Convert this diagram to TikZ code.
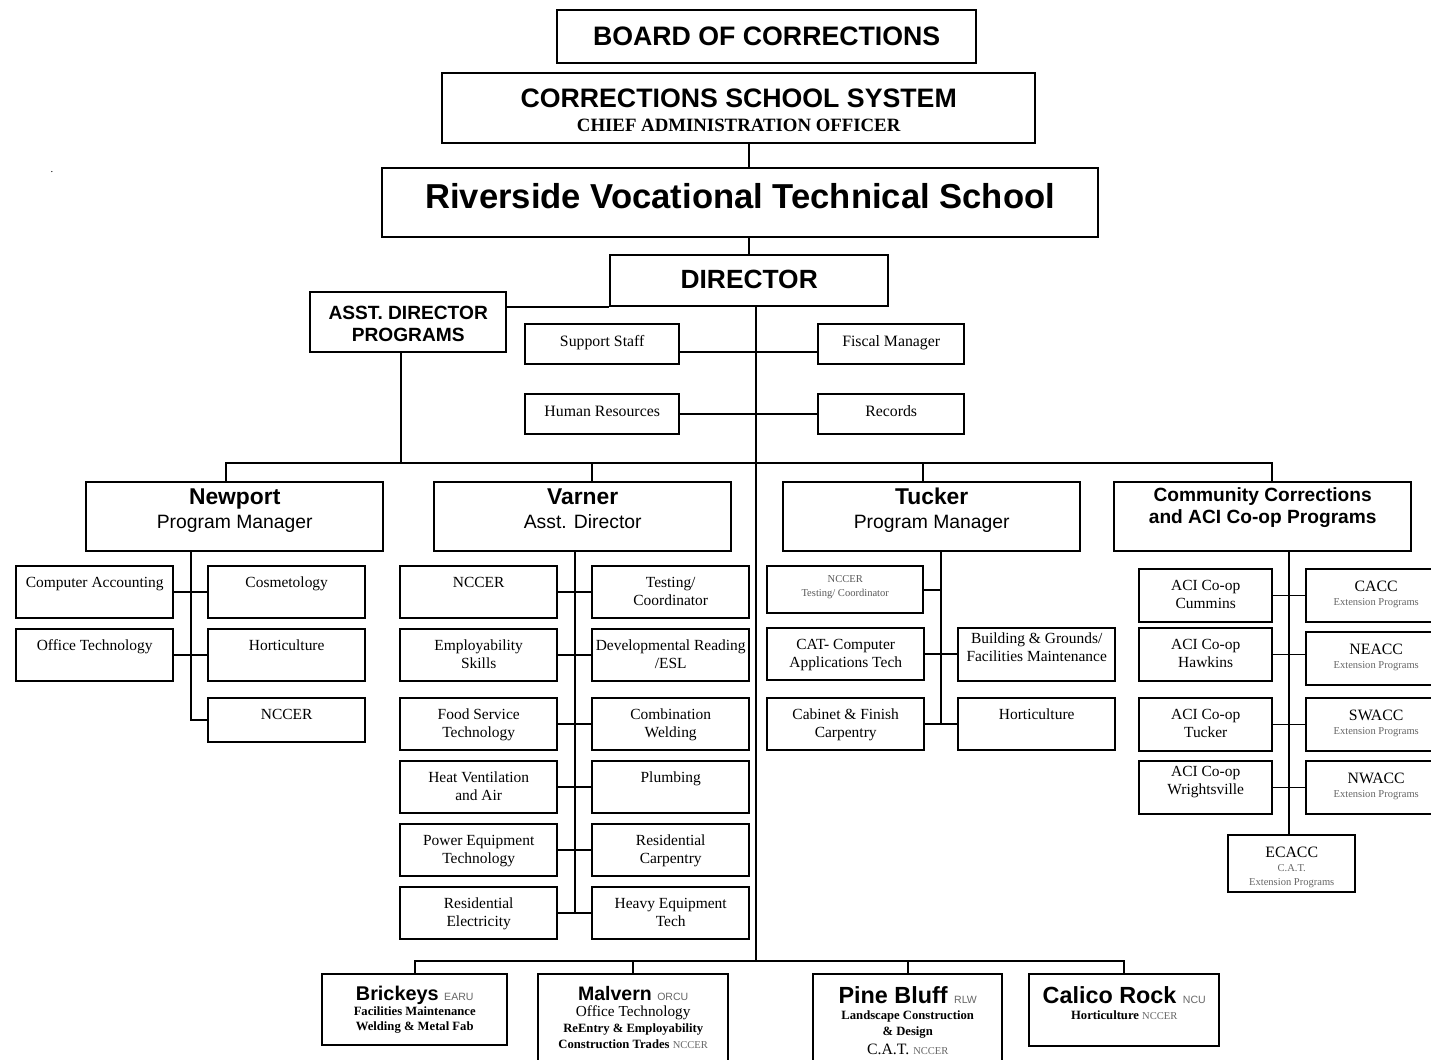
\documentclass[tikz,border=0pt]{standalone}
\usepackage{fontspec}
\setmainfont{Liberation Serif}
\setsansfont{Liberation Sans}
\usetikzlibrary{calc}

\tikzset{
  conn/.style={line width=1.1pt},
  cell/.style n args={3}{draw, line width=1.4pt, inner sep=0pt, anchor=north west,
    execute at begin node={\begin{minipage}[c][#2][t]{#1}\centering\rule{0pt}{#3}},
    execute at end node={\end{minipage}}},
  head/.style={cell={5.94cm}{1.38cm}{12.5pt}, font=\sffamily\fontsize{11}{13.6}\selectfont},
  staff/.style={cell={#1}{0.8cm}{12.5pt}, font=\fontsize{9}{11}\selectfont},
  sub/.style={cell={3.14cm}{#1}{11.9pt}, font=\fontsize{8.8}{10.2}\selectfont},
  sub/.default=1.03cm,
  aci/.style={cell={2.66cm}{1.05cm}{#1}, font=\fontsize{8.8}{10.2}\selectfont},
  aci/.default=11.9pt,
  ext/.style={cell={2.8cm}{1.05cm}{12.5pt}, font=\fontsize{6}{8}\selectfont},
  unit/.style n args={3}{cell={#1}{#2}{#3}, font=\bfseries\fontsize{7.2}{9.2}\selectfont}
}
\newcommand\faint[1]{{\mdseries\fontsize{6}{8}\selectfont\color{black!60}#1}}
\newcommand\site[3]{{\sffamily\bfseries\fontsize{#1}{12}\selectfont #2 \faint{#3}}}

\begin{document}
\begin{tikzpicture}[x=0.02cm,y=-0.02cm]
\useasboundingbox[fill=white] (0,0) rectangle (1431,1059);
\node[font=\fontsize{6}{6}\selectfont] (speck) at (52,172) {.};

% top of the chart
\node[cell={8.38cm}{1.06cm}{20.3pt}, font=\sffamily\bfseries\fontsize{15.2}{18}\selectfont] (board) at (556,9) {BOARD OF CORRECTIONS};
\node[cell={11.86cm}{1.4cm}{19.7pt}, font=\sffamily\bfseries\fontsize{15.2}{13.3}\selectfont] (css) at (441,72) {CORRECTIONS SCHOOL SYSTEM\\{\rmfamily\bfseries\fontsize{10.7}{13.3}\selectfont CHIEF ADMINISTRATION OFFICER}};
\node[cell={14.32cm}{1.38cm}{23pt}, font=\sffamily\bfseries\fontsize{19.7}{22}\selectfont] (rvts) at (381,167) {Riverside Vocational Technical School};
\node[cell={5.56cm}{1.02cm}{19pt}, font=\sffamily\bfseries\fontsize{15}{18}\selectfont] (dir) at (609,254) {DIRECTOR};
\node[cell={3.92cm}{1.2cm}{15.3pt}, font=\sffamily\bfseries\fontsize{10.9}{12.5}\selectfont] (asst) at (309,291) {ASST. DIRECTOR\\PROGRAMS};

\node[staff=3.08cm] (sup) at (524,323) {Support Staff};
\node[staff=2.92cm] (fis) at (817,323) {Fiscal Manager};
\node[staff=3.08cm] (hr) at (524,393) {Human Resources};
\node[staff=2.92cm] (rec) at (817,393) {Records};

% sites
\node[head] (newport) at (85,481) {{\bfseries\fontsize{13}{15}\selectfont Newport}\\Program Manager};
\node[head] (varner) at (433,481) {{\bfseries\fontsize{13}{15}\selectfont Varner}\\Asst. Director};
\node[head] (tucker) at (782,481) {{\bfseries\fontsize{13}{15}\selectfont Tucker}\\Program Manager};
\node[cell={5.94cm}{1.38cm}{10.8pt}, font=\sffamily\bfseries\fontsize{10.9}{12.5}\selectfont] (comm) at (1113,481) {Community Corrections\\and ACI Co-op Programs};

% Newport
\node[sub] (ca) at (15,565) {Computer Accounting};
\node[sub] (cos) at (207,565) {Cosmetology};
\node[sub] (ot) at (15,628) {Office Technology};
\node[sub] (nhort) at (207,628) {Horticulture};
\node[sub=0.88cm] (nnc) at (207,697) {NCCER};

% Varner
\node[sub] (vnc) at (399,565) {NCCER};
\node[sub] (vtest) at (591,565) {Testing/\\Coordinator};
\node[sub] (emp) at (399,628) {Employability\\Skills};
\node[sub] (dev) at (591,628) {Developmental Reading\\/ESL};
\node[sub] (food) at (399,697) {Food Service\\Technology};
\node[sub] (weld) at (591,697) {Combination\\Welding};
\node[sub] (hva) at (399,760) {Heat Ventilation\\and Air};
\node[sub] (plumb) at (591,760) {Plumbing};
\node[sub] (pow) at (399,823) {Power Equipment\\Technology};
\node[sub] (carp) at (591,823) {Residential\\Carpentry};
\node[sub] (elec) at (399,886) {Residential\\Electricity};
\node[sub] (heavy) at (591,886) {Heavy Equipment\\Tech};

% Tucker
\node[cell={3.12cm}{0.94cm}{9pt}, font=\fontsize{6}{8}\selectfont, text=black!65] (tnc) at (766,565) {NCCER\\Testing/ Coordinator};
\node[sub] (cat) at (766,627) {CAT- Computer\\Applications Tech};
\node[sub] (cab) at (766,697) {Cabinet \& Finish\\Carpentry};
\node[cell={3.14cm}{1.06cm}{8.5pt}, font=\fontsize{8.8}{10.2}\selectfont] (bg) at (957,627) {Building \& Grounds/\\Facilities Maintenance};
\node[sub] (thort) at (957,697) {Horticulture};

% Community Corrections
\node[aci] (cum) at (1138,568) {ACI Co-op\\Cummins};
\node[aci] (haw) at (1138,627) {ACI Co-op\\Hawkins};
\node[aci] (atuck) at (1138,697) {ACI Co-op\\Tucker};
\node[aci=8.5pt] (wri) at (1138,760) {ACI Co-op\\Wrightsville};
\node[ext] (cacc) at (1305,568) {{\fontsize{9}{8}\selectfont CACC}\\{\color{black!60}Extension Programs}};
\node[ext] (neacc) at (1305,631) {{\fontsize{9}{8}\selectfont NEACC}\\{\color{black!60}Extension Programs}};
\node[ext] (swacc) at (1305,697) {{\fontsize{9}{8}\selectfont SWACC}\\{\color{black!60}Extension Programs}};
\node[ext] (nwacc) at (1305,760) {{\fontsize{9}{8}\selectfont NWACC}\\{\color{black!60}Extension Programs}};
\node[cell={2.54cm}{1.14cm}{12.5pt}, font=\fontsize{6}{8}\selectfont] (ecacc) at (1227,834) {{\fontsize{9}{8}\selectfont ECACC}\\{\color{black!60}C.A.T.}\\{\color{black!60}Extension Programs}};

% units at the bottom
\node[unit={3.7cm}{1.42cm}{14.7pt}, font=\bfseries\fontsize{7.2}{8.7}\selectfont] (bri) at (321,973) {\site{11.3}{Brickeys}{EARU}\\Facilities Maintenance\\Welding \& Metal Fab};
\node[unit={3.8cm}{2cm}{14.7pt}] (mal) at (537,973) {\site{11.1}{Malvern}{ORCU}\\{\mdseries\fontsize{8.7}{9}\selectfont Office Technology}\\ReEntry \& Employability\\Construction Trades \faint{NCCER}};
\node[unit={3.78cm}{2cm}{16.5pt}] (pb) at (812,973) {\site{13.3}{Pine Bluff}{RLW}\\Landscape Construction\\\& Design\\[1.5pt]{\mdseries\fontsize{9}{9}\selectfont C.A.T. \faint{NCCER}}};
\node[unit={3.8cm}{1.44cm}{16.5pt}] (cal) at (1028,973) {\site{13.3}{Calico Rock}{NCU}\\Horticulture \faint{NCCER}};

% connectors
\coordinate (trunk) at ([xshift=0.14cm]dir.south);
\coordinate (bus) at (0,463);
\coordinate (lowbus) at (0,961);
\draw[conn] (css.south -| dir) -- (rvts.north -| dir);
\draw[conn] (rvts.south -| dir) -- (dir);
\draw[conn] (asst.east |- dir.south west) -- (dir.south west);
\draw[conn] (trunk) -- (trunk |- lowbus);
\draw[conn] ([yshift=-0.15cm]sup.east) -- ([yshift=-0.15cm]fis.west);
\draw[conn] (hr) -- (rec);
\draw[conn] ([xshift=-0.14cm]asst.south) -- ([xshift=-0.14cm]asst.south |- bus);

\coordinate (dn) at ([xshift=-0.17cm]newport.north);
\coordinate (dv) at ([xshift=0.19cm]varner.north);
\coordinate (dt) at ([xshift=-0.17cm]tucker.north);
\coordinate (dc) at ([xshift=0.19cm]comm.north);
\draw[conn] (dn) |- (dc |- bus) -- (dc);
\draw[conn] (dv) -- (dv |- bus);
\draw[conn] (dt) -- (dt |- bus);

\coordinate (nx) at ($(ca.east)!.5!(cos.west)$);
\draw[conn] (nx |- newport.south) -- (nx |- nnc.west) -- (nnc.west);
\draw[conn] (ca) -- (cos);
\draw[conn] (ot) -- (nhort);

\coordinate (vx) at ($(vnc.east)!.5!(vtest.west)$);
\draw[conn] (vx |- varner.south) -- (vx |- elec.east);
\draw[conn] (vnc) -- (vtest);
\draw[conn] (emp) -- (dev);
\draw[conn] (food) -- (weld);
\draw[conn] (hva) -- (plumb);
\draw[conn] (pow) -- (carp);
\draw[conn] (elec) -- (heavy);

\coordinate (tx) at ($(cat.east)!.5!(bg.west)$);
\draw[conn] (tx |- tucker.south) -- (tx |- cab.east);
\draw[conn] (tnc) -- (tnc -| tx);
\draw[conn] (cat) -- (cat -| bg.west);
\draw[conn] (cab) -- (cab -| thort.west);

\coordinate (cx) at ($(cum.east)!.5!(cacc.west)$);
\draw[conn] (cx |- comm.south) -- (cx |- ecacc.north);
\draw[conn] (cum) -- (cum -| cacc.west);
\draw[conn] (haw) -- (haw -| neacc.west);
\draw[conn] (atuck) -- (atuck -| swacc.west);
\draw[conn] (wri) -- (wri -| nwacc.west);

\draw[conn] (bri.north) |- (cal.north |- lowbus) -- (cal.north);
\draw[conn] (mal.north) -- (mal.north |- lowbus);
\draw[conn] (pb.north) -- (pb.north |- lowbus);
\end{tikzpicture}
\end{document}
